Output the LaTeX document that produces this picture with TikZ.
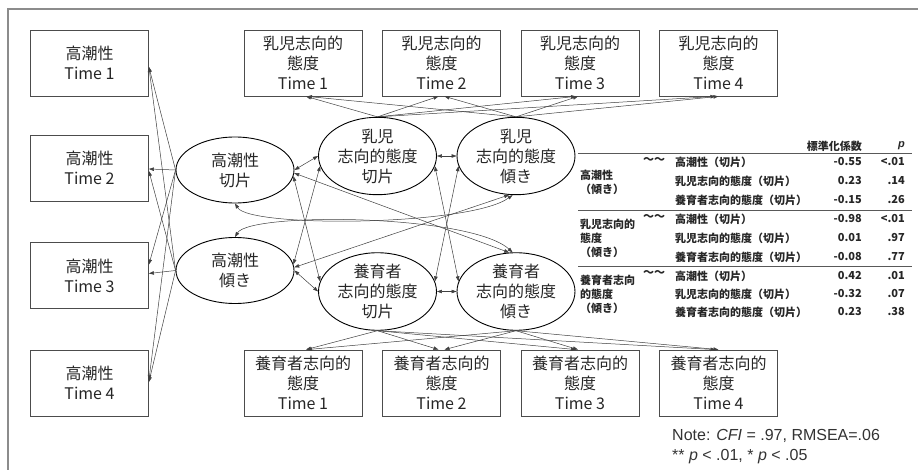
\documentclass[tikz,border=0pt]{standalone}
\usepackage{fontspec}
\setmainfont{Noto Sans CJK JP}
\newfontfamily\notefont{Liberation Sans}
\usetikzlibrary{arrows.meta,shapes.geometric}
\begin{document}
\begin{tikzpicture}[x=1pt,y=-1pt,
  box/.style={draw=black!70, line width=0.8pt, minimum width=118pt, minimum height=66pt, inner sep=0pt, align=center, font=\fontsize{16}{20}\selectfont, text=black!85},
  lat/.style={ellipse, draw=black, line width=0.9pt, minimum width=118pt, minimum height=66pt, inner sep=0pt, align=center, font=\fontsize{16}{20}\selectfont, text=black!85},
  arr/.style={draw=black!75, line width=0.5pt, -{Triangle[length=5pt,width=3.5pt]}},
  dbl/.style={draw=black!75, line width=0.5pt, {Triangle[length=5pt,width=3.5pt]}-{Triangle[length=5pt,width=3.5pt]}},
  tb/.style={inner sep=0pt, font=\fontsize{11}{12}\selectfont\bfseries, text=black!85},
  rule/.style={draw=black!65, line width=0.7pt},
  notetext/.style={anchor=west, inner sep=0pt, font=\notefont\fontsize{16}{18}\selectfont, text=black!80}
]
\useasboundingbox (0,0) rectangle (918,470);
\fill[white] (0,0) rectangle (918,470);
\draw[line width=2pt, black!45] (8,470) -- (8,9) -- (918,9);

% observed boxes
\node[box] (L1) at (89.5,63) {高潮性\\Time 1};
\node[box] (L2) at (89.5,168) {高潮性\\Time 2};
\node[box] (L3) at (89.5,275.5) {高潮性\\Time 3};
\node[box] (L4) at (89.5,383) {高潮性\\Time 4};
\node[box] (T1) at (303,63) {乳児志向的\\態度\\Time 1};
\node[box] (T2) at (441.5,63) {乳児志向的\\態度\\Time 2};
\node[box] (T3) at (580,63) {乳児志向的\\態度\\Time 3};
\node[box] (T4) at (718.5,63) {乳児志向的\\態度\\Time 4};
\node[box] (B1) at (303,383) {養育者志向的\\態度\\Time 1};
\node[box] (B2) at (441.5,383) {養育者志向的\\態度\\Time 2};
\node[box] (B3) at (580,383) {養育者志向的\\態度\\Time 3};
\node[box] (B4) at (718.5,383) {養育者志向的\\態度\\Time 4};

% latent
\node[lat] (G1) at (235,170) {高潮性\\切片};
\node[lat] (G2) at (235,270.5) {高潮性\\傾き};
\node[lat] (N1) at (377.5,156) {乳児\\志向的態度\\切片};
\node[lat] (N2) at (516,156) {乳児\\志向的態度\\傾き};
\node[lat] (Y1) at (377.5,291.5) {養育者\\志向的態度\\切片};
\node[lat] (Y2) at (516,291.5) {養育者\\志向的態度\\傾き};

% loadings
\foreach \i/\s in {1/-4,2/-1,3/11,4/3} \draw[arr] (G1.west) -- ([yshift=\s pt]L\i.east);
\foreach \i/\s in {1/-4,2/-3,3/2,4/1} \draw[arr] (G2.west) -- ([yshift=\s pt]L\i.east);
\foreach \i/\s in {1/3,2/-3,3/-4,4/-3} \draw[arr] (N1.north) -- ([xshift=\s pt]T\i.south);
\foreach \i/\s in {1/4,2/3,3/-2,4/0} \draw[arr] (N2.north) -- ([xshift=\s pt]T\i.south);
\foreach \i/\s in {1/3,2/-3,3/-4,4/-3} \draw[arr] (Y1.south) -- ([xshift=\s pt]B\i.north);
\foreach \i/\s in {1/4,2/3,3/-2,4/0} \draw[arr] (Y2.south) -- ([xshift=\s pt]B\i.north);

% covariances
\draw[dbl] (N1.east) -- (N2.west);
\draw[dbl] (Y1.east) -- (Y2.west);
\draw[dbl] (G1.east) -- (N1.west);
\draw[dbl] (G2.east) -- (Y1.west);
\draw[dbl] (G1.-6) -- (Y1.170);
\draw[dbl] (N1.190) -- (G2.6);
\draw[dbl] (G1.-3) -- (Y2.100);
\draw[dbl] (G2.3) -- (N2.-100);
\draw[dbl] (N1.-10) -- (Y2.170);
\draw[dbl] (N2.190) -- (Y1.10);
\draw[dbl] (G1.south) .. controls (250,228) and (470,226) .. (N2.-95);
\draw[dbl] (G2.north) .. controls (250,212) and (470,214) .. (Y2.95);

% table
\node[tb, anchor=east] (hd) at (862,146) {標準化係数};
\node[tb, anchor=east] (hp) at (905,146) {\notefont\bfseries\itshape p};
\draw[rule] (578,153) -- (912,153);
\draw[rule] (578,210) -- (912,210);
\draw[rule] (578,266) -- (912,266);
\node[tb] (w1) at (654,161) {〜〜};
\node[tb] (w2) at (654,218) {〜〜};
\node[tb] (w3) at (654,274) {〜〜};
\node[tb, anchor=west] (g1a) at (580,175) {高潮性};
\node[tb, anchor=west] (g1b) at (580,189) {（傾き）};
\node[tb, anchor=west] (g2a) at (580,224) {乳児志向的};
\node[tb, anchor=west] (g2b) at (580,238) {態度};
\node[tb, anchor=west] (g2c) at (580,252) {（傾き）};
\node[tb, anchor=west] (g3a) at (580,280) {養育者志向};
\node[tb, anchor=west] (g3b) at (580,294) {的態度};
\node[tb, anchor=west] (g3c) at (580,308) {（傾き）};
\foreach \n/\y/\lab/\v/\p in {
  1/162/高潮性（切片）/-0.55/<.01,
  2/181/乳児志向的態度（切片）/0.23/.14,
  3/200/養育者志向的態度（切片）/-0.15/.26,
  4/219/高潮性（切片）/-0.98/<.01,
  5/238/乳児志向的態度（切片）/0.01/.97,
  6/257/養育者志向的態度（切片）/-0.08/.77,
  7/276/高潮性（切片）/0.42/.01,
  8/294/乳児志向的態度（切片）/-0.32/.07,
  9/312/養育者志向的態度（切片）/0.23/.38}{
  \node[tb, anchor=west] (r\n) at (675,\y) {\lab};
  \node[tb, anchor=east] (v\n) at (862,\y) {\v};
  \node[tb, anchor=east] (p\n) at (905,\y) {\p};
}

% note
\node[notetext] (note1) at (672,436) {Note: \textit{CFI} = .97, RMSEA=.06};
\node[notetext] (note2) at (672,457) {** \textit{p} < .01, * \textit{p} < .05};
\end{tikzpicture}
\end{document}
